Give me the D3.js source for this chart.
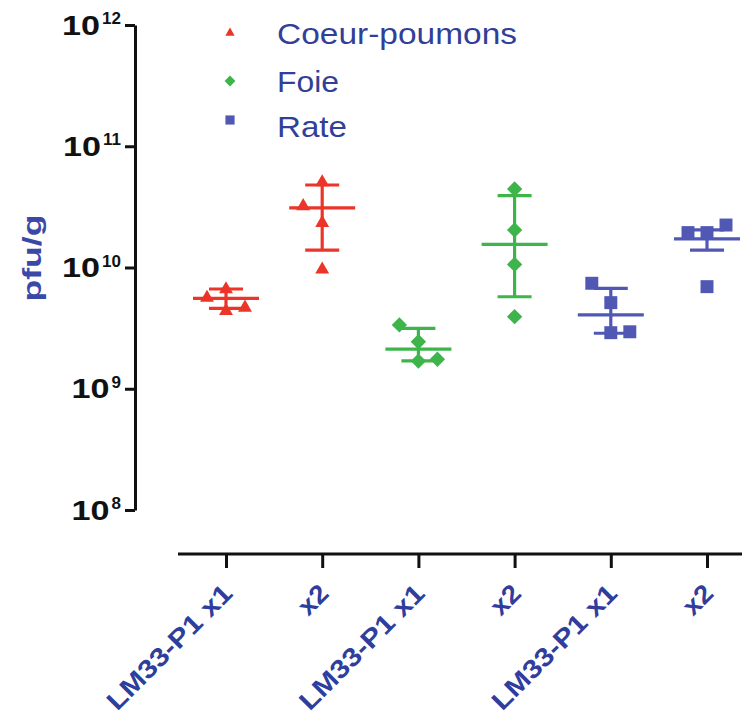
<!DOCTYPE html>
<html>
<head>
<meta charset="utf-8">
<script src="https://cdn.jsdelivr.net/npm/d3@7/dist/d3.min.js"></script>
<style>
  html, body { margin: 0; padding: 0; background: #ffffff; }
  svg { display: block; font-family: "Liberation Sans", Arial, sans-serif; }
</style>
</head>
<body>
<svg id="chart" width="748" height="720"></svg>
<script>
// ---------------- data ----------------
const categories = ["LM33-P1 x1", "x2", "LM33-P1 x1", "x2", "LM33-P1 x1", "x2"];
const seriesNames = ["Coeur-poumons", "Foie", "Rate"];
const seriesColors = ["#ec3528", "#3db54b", "#5058b4"];
const groupSeries = [0, 0, 1, 1, 2, 2];

// individual values (pfu/g) per group
const pointsG0 = [6.8e9, 5.8e9, 4.5e9, 4.8e9];
const pointsG1 = [5.2e10, 3.3e10, 2.4e10, 9.9e9];
const pointsG2 = [3.36e9, 2.44e9, 1.69e9, 1.75e9];
const pointsG3 = [4.44e10, 2.04e10, 1.06e10, 3.93e9];
const pointsG4 = [7.41e9, 5.13e9, 2.90e9, 2.95e9];
const pointsG5 = [1.94e10, 1.94e10, 2.24e10, 6.95e9];
const groupPoints = [pointsG0, pointsG1, pointsG2, pointsG3, pointsG4, pointsG5];
// scatter column index of each point (-1 left, 0 centre, 1 right)
const groupSlots = [[0, -1, 0, 1], [0, -1, 0, 0], [-1, 0, 0, 1], [0, 0, 0, 0], [-1, 0, 0, 1], [-1, 0, 1, 0]];

// mean and error bar ends
const groupMeans  = [5.57e9, 3.1e10, 2.12e9, 1.55e10, 4.06e9, 1.72e10];
const groupLowers = [4.61e9, 1.39e10, 1.70e9, 5.74e9, 2.87e9, 1.39e10];
const groupUppers = [6.65e9, 4.79e10, 3.15e9, 3.91e10, 6.74e9, 2.04e10];

const yTickValues = [1e8, 1e9, 1e10, 1e11, 1e12];
const yTickExponents = ["8", "9", "10", "11", "12"];
const yTitle = "pfu/g";

// ---------------- layout ----------------
const svg = d3.select("#chart");
const textBlue = "#2f3d9c";

const y = d3.scaleLog().domain([1e8, 1e12]).range([510, 25]);
const x = d3.scalePoint().domain(d3.range(categories.length)).range([226, 707]);

// y axis
const yAxis = d3.axisLeft(y).tickValues(yTickValues).tickSize(10).tickSizeOuter(0).tickFormat("");
const gy = svg.append("g").attr("transform", "translate(135,0)").call(yAxis);
gy.select(".domain").attr("stroke", "#111").attr("stroke-width", 3);
gy.selectAll(".tick line").attr("stroke", "#111").attr("stroke-width", 3);

// y tick labels: 10 with superscript exponent
yTickValues.forEach((v, i) => {
  const ty = y(v);
  const sup = svg.append("text")
    .attr("x", 121).attr("y", ty - 1)
    .attr("text-anchor", "end")
    .attr("font-size", 17).attr("font-weight", "bold").attr("fill", "#111")
    .text(yTickExponents[i]);
  const supW = sup.node().getComputedTextLength();
  svg.append("text")
    .attr("x", 121 - supW - 2).attr("y", ty + 9.5)
    .attr("text-anchor", "end")
    .attr("font-size", 27).attr("font-weight", "bold").attr("fill", "#111")
    .attr("textLength", 38).attr("lengthAdjust", "spacingAndGlyphs")
    .text("10");
});

// y title
svg.append("text")
  .attr("transform", "translate(41,258) rotate(-90)")
  .attr("text-anchor", "middle")
  .attr("font-size", 25).attr("font-weight", "bold").attr("fill", "#3a49a8")
  .attr("textLength", 87).attr("lengthAdjust", "spacingAndGlyphs")
  .text(yTitle);

// x axis
svg.append("line").attr("x1", 178).attr("x2", 742).attr("y1", 554).attr("y2", 554)
  .attr("stroke", "#111").attr("stroke-width", 3);
const xAxis = d3.axisBottom(x).tickSize(14).tickSizeOuter(0).tickFormat("");
const gx = svg.append("g").attr("transform", "translate(0,554)").call(xAxis);
gx.select(".domain").remove();
gx.selectAll(".tick line").attr("stroke", "#111").attr("stroke-width", 3);

// x tick labels rotated -45
categories.forEach((c, i) => {
  const t = svg.append("text")
    .attr("transform", `translate(${x(i) + 8},595) rotate(-45)`)
    .attr("text-anchor", "end")
    .attr("font-size", 26).attr("font-weight", "bold").attr("fill", textBlue)
    .text(c);
  if (c.length > 3) t.attr("textLength", 165).attr("lengthAdjust", "spacingAndGlyphs");
  else t.attr("textLength", 31).attr("lengthAdjust", "spacingAndGlyphs");
});

// symbols
const symbolFor = (s, scale) => {
  if (s === 0) return d3.symbol().type(d3.symbolTriangle).size(84 * scale)();
  if (s === 1) return d3.symbol().type(d3.symbolSquare).size(118 * scale)();
  return d3.symbol().type(d3.symbolSquare).size(168 * scale)();
};
const rotFor = s => (s === 1 ? 45 : 0);
const slotStep = 19;

// error bars and points
groupPoints.forEach((pts, g) => {
  const s = groupSeries[g];
  const col = seriesColors[s];
  const cx = x(g);
  const eg = svg.append("g").attr("stroke", col).attr("stroke-width", 3.2).attr("fill", "none");
  eg.append("line").attr("x1", cx).attr("x2", cx).attr("y1", y(groupUppers[g])).attr("y2", y(groupLowers[g]));
  eg.append("line").attr("x1", cx - 17).attr("x2", cx + 17).attr("y1", y(groupUppers[g])).attr("y2", y(groupUppers[g]));
  eg.append("line").attr("x1", cx - 17).attr("x2", cx + 17).attr("y1", y(groupLowers[g])).attr("y2", y(groupLowers[g]));
  eg.append("line").attr("x1", cx - 33).attr("x2", cx + 33).attr("y1", y(groupMeans[g])).attr("y2", y(groupMeans[g]));

  svg.append("g").selectAll("path").data(pts).join("path")
    .attr("d", symbolFor(s, 1))
    .attr("transform", (v, k) => {
      const dy = s === 0 ? 1.5 : 0;
      return `translate(${cx + groupSlots[g][k] * slotStep},${y(v) + dy}) rotate(${rotFor(s)})`;
    })
    .attr("fill", col);
});

// legend
const legendY = [33, 81, 120];
const legendBase = [43.5, 92, 137];
const legendLen = [240, 62, 70];
seriesNames.forEach((n, i) => {
  svg.append("path")
    .attr("d", symbolFor(i, i === 0 ? 0.45 : 0.5))
    .attr("transform", `translate(230,${legendY[i]}) rotate(${rotFor(i)})`)
    .attr("fill", seriesColors[i]);
  svg.append("text")
    .attr("x", 277).attr("y", legendBase[i])
    .attr("font-size", 30).attr("fill", "#323f98")
    .attr("textLength", legendLen[i]).attr("lengthAdjust", "spacingAndGlyphs")
    .text(n);
});
</script>
</body>
</html>
